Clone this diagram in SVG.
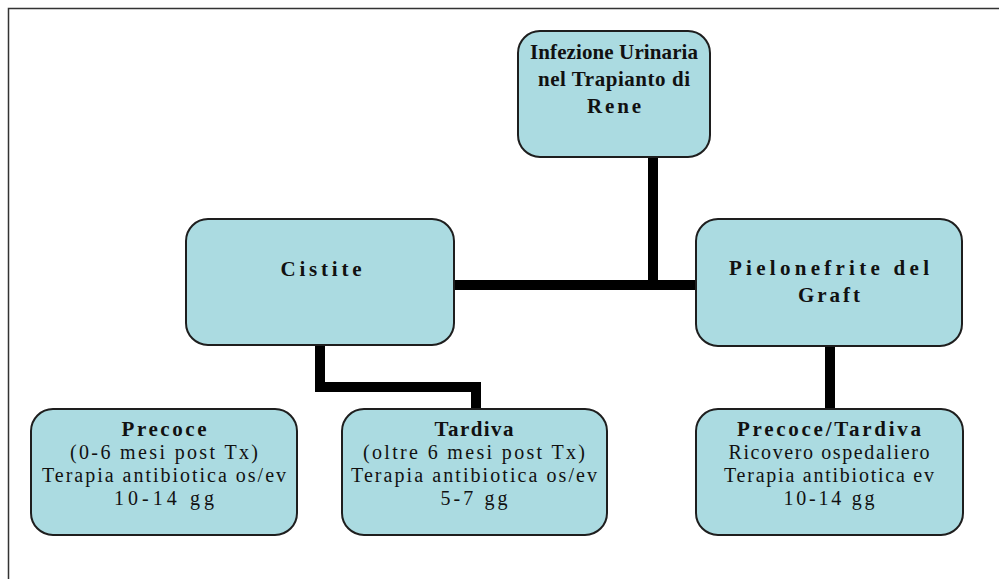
<svg xmlns="http://www.w3.org/2000/svg" width="999" height="579" viewBox="0 0 999 579">
<style>
.box{fill:#abdbe1;stroke:#1e1e1e;stroke-width:2}
.t{font-family:"Liberation Serif","Times New Roman",serif;font-size:20px;fill:#111;text-anchor:middle}
.b{font-weight:bold;font-size:21px}
.c{fill:none;stroke:#000;stroke-width:10}
</style>
<rect width="999" height="579" fill="#fff"/>
<path d="M8.5 579 V8.5 H999" fill="none" stroke="#333" stroke-width="1.5"/>
<g id="connectors">
<path class="c" d="M653 157 V285 M454 285 H696"/>
<path class="c" d="M320 345 V387 H476 V409"/>
<path class="c" d="M830 346 V409"/>
</g>
<g id="n-root">
<rect class="box" x="518" y="31" width="192" height="126" rx="22"/>
<text class="t b" x="614" y="59" textLength="168" lengthAdjust="spacing">Infezione Urinaria</text>
<text class="t b" x="614" y="86" textLength="152" lengthAdjust="spacing">nel Trapianto di</text>
<text class="t b" x="614" y="113" textLength="54" lengthAdjust="spacing">Rene</text>
</g>
<g id="n-cistite">
<rect class="box" x="186" y="219" width="268" height="126" rx="22"/>
<text class="t b" x="321" y="276" textLength="81" lengthAdjust="spacing">Cistite</text>
</g>
<g id="n-pielo">
<rect class="box" x="696" y="219" width="266" height="127" rx="22"/>
<text class="t b" x="829" y="275" textLength="200" lengthAdjust="spacing">Pielonefrite del</text>
<text class="t b" x="829" y="302" textLength="62" lengthAdjust="spacing">Graft</text>
</g>
<g id="n-precoce">
<rect class="box" x="31" y="409" width="266" height="126" rx="22"/>
<text class="t b" x="164" y="436" textLength="85" lengthAdjust="spacing">Precoce</text>
<text class="t" x="164" y="459" textLength="188" lengthAdjust="spacing">(0-6 mesi post Tx)</text>
<text class="t" x="164" y="482" textLength="244" lengthAdjust="spacing">Terapia antibiotica os/ev</text>
<text class="t" x="164" y="505" textLength="100" lengthAdjust="spacing">10-14 gg</text>
</g>
<g id="n-tardiva">
<rect class="box" x="342" y="409" width="265" height="126" rx="22"/>
<text class="t b" x="474" y="436" textLength="79" lengthAdjust="spacing">Tardiva</text>
<text class="t" x="474" y="459" textLength="222" lengthAdjust="spacing">(oltre 6 mesi post Tx)</text>
<text class="t" x="474" y="482" textLength="246" lengthAdjust="spacing">Terapia antibiotica os/ev</text>
<text class="t" x="474" y="505" textLength="67" lengthAdjust="spacing">5-7 gg</text>
</g>
<g id="n-pt">
<rect class="box" x="696" y="409" width="267" height="126" rx="22"/>
<text class="t b" x="829" y="436" textLength="184" lengthAdjust="spacing">Precoce/Tardiva</text>
<text class="t" x="829" y="459" textLength="201" lengthAdjust="spacing">Ricovero ospedaliero</text>
<text class="t" x="829" y="482" textLength="210" lengthAdjust="spacing">Terapia antibiotica ev</text>
<text class="t" x="829" y="505" textLength="91" lengthAdjust="spacing">10-14 gg</text>
</g>
</svg>
